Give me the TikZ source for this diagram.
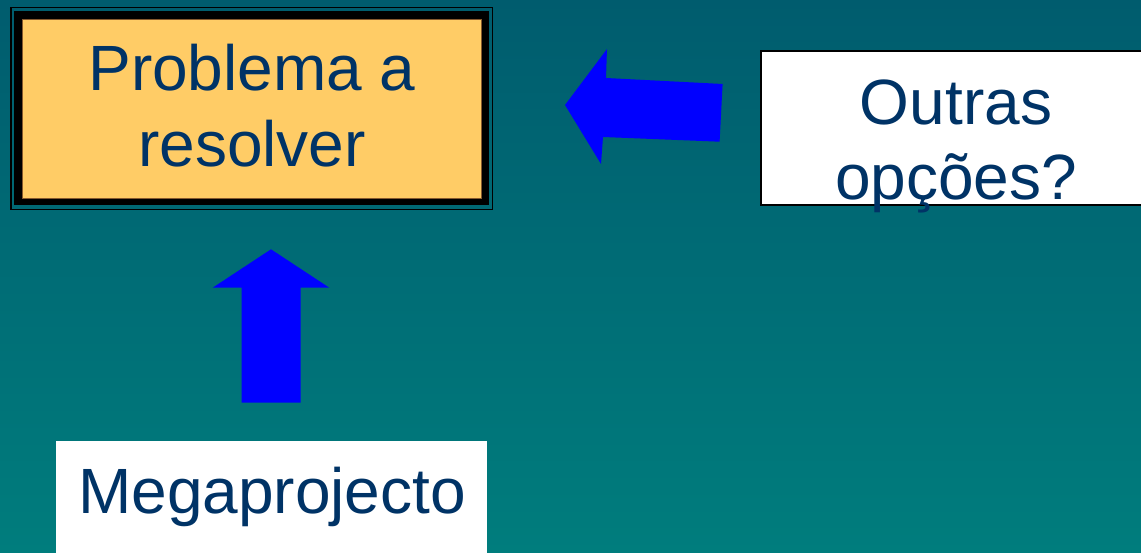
\documentclass[tikz,border=0pt]{standalone}
\usepackage{fontspec}
\setmainfont{Liberation Sans}
\definecolor{bgtop}{RGB}{0,92,110}
\definecolor{bgbot}{RGB}{0,125,125}
\definecolor{boxyellow}{RGB}{255,204,102}
\definecolor{txtblue}{RGB}{0,51,102}
\definecolor{arrowblue}{RGB}{0,0,255}
\tikzset{
  txt/.style={anchor=base, inner sep=0pt, text=txtblue, font=\fontsize{64}{76}\selectfont},
  whitebox/.style={fill=white, inner sep=0pt, anchor=north west},
  blockarrow/.style={fill=arrowblue, draw=none}
}
\begin{document}
\begin{tikzpicture}[x=1pt,y=-1pt]
\useasboundingbox (0,0) rectangle (1141,553);
\shade[top color=bgtop, bottom color=bgbot] (0,0) rectangle (1141,553);
% problem box
\draw[black, line width=1.5pt] (10.8,7.5) rectangle (492.5,209.5);
\fill[black] (13.5,11.5) rectangle (488.5,205.5);
\node[fill=boxyellow, draw=brown!70!black, line width=0.6pt, inner sep=0pt, anchor=north west,
      minimum width=459pt, minimum height=179pt] (prob) at (22,19) {};
\node[txt] (p1) at (252,91) {Problema a};
\node[txt] (p2) at (252,167) {resolver};
% outras box
\node[whitebox, draw=black, line width=1.5pt, minimum width=390pt, minimum height=154pt] (outras) at (760,50.5) {};
\node[txt] (o1) at (956,125) {Outras};
\node[txt] (o2) at (956,200) {opções?};
% megaprojecto box
\node[whitebox, minimum width=431pt, minimum height=120pt] (mega) at (56,441) {};
\node[txt] (m1) at (272,513) {Megaprojecto};
% arrows
\fill[blockarrow] (565,105) -- (607,49) -- (606,78) -- (722.6,84) -- (719.6,141.7) -- (603,137) -- (601,164) -- cycle;
\fill[blockarrow] (271,249.3) -- (329.3,287.7) -- (300.7,287.7) -- (300.7,402.7) -- (241.7,402.7) -- (241.7,287.7) -- (212.7,287.7) -- cycle;
\end{tikzpicture}
\end{document}
